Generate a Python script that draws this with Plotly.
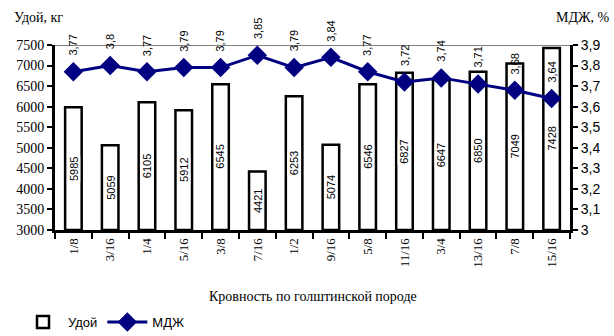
import plotly.graph_objects as go

categories = ["1/8", "3/16", "1/4", "5/16", "3/8", "7/16", "1/2", "9/16", "5/8", "11/16", "3/4", "13/16", "7/8", "15/16"]
milk_yield = [5985, 5059, 6105, 5912, 6545, 4421, 6253, 5074, 6546, 6827, 6647, 6850, 7049, 7428]
fat_pct = [3.77, 3.80, 3.77, 3.79, 3.79, 3.85, 3.79, 3.84, 3.77, 3.72, 3.74, 3.71, 3.68, 3.64]
fat_labels = ["3,77", "3,8", "3,77", "3,79", "3,79", "3,85", "3,79", "3,84", "3,77", "3,72", "3,74", "3,71", "3,68", "3,64"]
left_ticks = list(range(3000, 7501, 500))
right_ticks = [3.0, 3.1, 3.2, 3.3, 3.4, 3.5, 3.6, 3.7, 3.8, 3.9]
right_ticktext = ["3", "3,1", "3,2", "3,3", "3,4", "3,5", "3,6", "3,7", "3,8", "3,9"]

SERIF = "Liberation Serif, Times New Roman, serif"
SANS = "Liberation Sans, Arial, sans-serif"

fig = go.Figure()
fig.add_trace(go.Bar(
    x=categories, y=[v - 3000 for v in milk_yield], base=3000,
    name="Удой", marker=dict(color="white", line=dict(color="black", width=2.5)),
    width=0.45, yaxis="y"))
fig.add_trace(go.Scatter(
    x=categories, y=fat_pct, name="МДЖ", yaxis="y2", mode="lines+markers",
    line=dict(color="#000080", width=3),
    marker=dict(symbol="diamond", size=15, color="#000080")))

annotations = []
for c, v in zip(categories, milk_yield):
    annotations.append(dict(x=c, y=(3000 + v) / 2, xref="x", yref="y", text=str(v),
                            textangle=-90, showarrow=False, bgcolor="white",
                            font=dict(family=SANS, size=11, color="black"), borderpad=0))
for c, v, t in zip(categories, fat_pct, fat_labels):
    annotations.append(dict(x=c, y=v, xref="x", yref="y2", text=t, textangle=-90,
                            showarrow=False, yanchor="bottom", yshift=14,
                            font=dict(family=SANS, size=11, color="black")))
annotations += [
    dict(x=12, y=17, xref="paper", yref="paper", text="Удой, кг", showarrow=False,
         xanchor="left", yanchor="middle", font=dict(family=SERIF, size=14, color="black")),
    dict(x=612, y=17, xref="paper", yref="paper", text="МДЖ, %", showarrow=False,
         xanchor="right", yanchor="middle", font=dict(family=SERIF, size=14, color="black")),
    dict(x=0.5, y=-0.36, xref="paper", yref="paper", text="Кровность по голштинской породе",
         showarrow=False, xanchor="center", yanchor="middle",
         font=dict(family=SERIF, size=14, color="black")),
]
PL, PR, PT, PB = 55, 570, 45, 230
for a in annotations[-3:-1]:
    a["x"] = (a["x"] - PL) / (PR - PL)
    a["y"] = (PB - a["y"]) / (PB - PT)

fig.update_layout(
    width=614, height=336,
    margin=dict(l=PL, r=614 - PR, t=PT, b=336 - PB, autoexpand=False),
    paper_bgcolor="white", plot_bgcolor="white",
    showlegend=True,
    legend=dict(orientation="h", xref="container", yref="container",
                x=18 / 614, y=1 - 322 / 336, xanchor="left", yanchor="middle",
                font=dict(family=SANS, size=13, color="black"),
                traceorder="normal", itemwidth=40),
    xaxis=dict(type="category", tickson="boundaries", ticks="outside", ticklen=6,
               tickwidth=2, tickcolor="black", showline=True, linecolor="black", linewidth=3,
               tickangle=-90, tickfont=dict(family=SERIF, size=13, color="black"),
               showgrid=False, range=[-0.5, 13.5], automargin=False),
    yaxis=dict(range=[3000, 7500], tickvals=left_ticks, ticks="outside", ticklen=5,
               tickwidth=2, tickcolor="black", showline=True, linecolor="black", linewidth=3,
               showgrid=False, zeroline=False, automargin=False,
               tickfont=dict(family=SERIF, size=14, color="black")),
    yaxis2=dict(range=[3.0, 3.9], overlaying="y", side="right", tickvals=right_ticks,
                ticktext=right_ticktext, ticks="outside", ticklen=5, tickwidth=2,
                tickcolor="black", showline=True, linecolor="black", linewidth=3,
                showgrid=False, zeroline=False, automargin=False,
                tickfont=dict(family=SANS, size=14, color="black")),
    annotations=annotations,
    shapes=[dict(type="line", xref="paper", yref="y", x0=0, x1=1, y0=7500, y1=7500,
                 line=dict(color="#808080", width=2), layer="below")],
)

fig.write_html("out.html", config={"displayModeBar": False},
               post_script="document.body.style.margin='0';")
